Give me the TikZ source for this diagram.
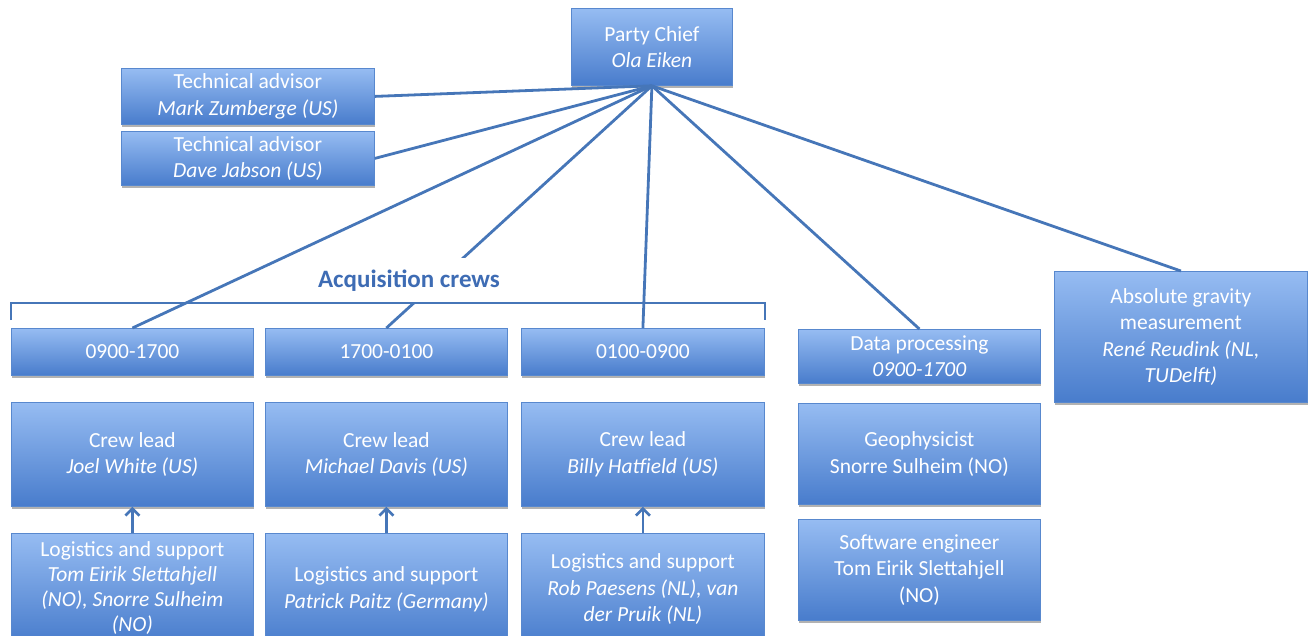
\documentclass[tikz,border=0pt]{standalone}
\usepackage{fontspec}
\setmainfont{Carlito}
\usepackage{tikz}
\usetikzlibrary{arrows.meta,shadows}
\definecolor{boxTop}{RGB}{150,188,242}
\definecolor{boxBottom}{RGB}{72,124,204}
\definecolor{boxEdge}{RGB}{88,136,206}
\definecolor{linkLine}{RGB}{70,118,184}
\definecolor{crewLabel}{RGB}{62,108,180}

\begin{document}
\begin{tikzpicture}[
  x=1pt,
  y=-1pt,
  org box/.style 2 args={
    anchor=north west,
    draw=boxEdge,
    line width=0.8pt,
    top color=boxTop,
    bottom color=boxBottom,
    text=white,
    align=center,
    inner sep=2pt,
    minimum width=#1pt,
    minimum height=#2pt,
    font=\fontsize{21.5}{26.5}\selectfont,
    drop shadow={shadow xshift=1pt,shadow yshift=-3pt,opacity=0.3,fill=black}
  },
  org link/.style={
    draw=linkLine,
    line width=2.8pt
  },
  org arrow/.style={
    draw=linkLine,
    line width=2.6pt,
    -{Straight Barb[length=7pt,width=14pt]}
  },
  crew label/.style={
    fill=white,
    text=crewLabel,
    minimum width=220pt,
    minimum height=46pt,
    font=\fontsize{25}{30}\selectfont\bfseries
  }
]
\useasboundingbox (0,0) rectangle (1314,635);
\clip (0,0) rectangle (1314,635);

\node[org box={161}{77}] (chief) at (571,8) {Party Chief\\\textit{Ola Eiken}};
\node[org box={253}{56}] (advisorA) at (121,68) {Technical advisor\\\textit{Mark Zumberge (US)}};
\node[org box={253}{54}] (advisorB) at (121,131) {Technical advisor\\\textit{Dave Jabson (US)}};

\node[org box={242}{47}] (shiftA) at (11,328) {0900-1700};
\node[org box={242}{47}] (shiftB) at (265,328) {1700-0100};
\node[org box={243}{47}] (shiftC) at (521,328) {0100-0900};
\node[org box={242}{54}] (dataProc) at (798,329) {Data processing\\\textit{0900-1700}};
\node[org box={253}{131}] (gravity) at (1054,271) {Absolute gravity\\measurement\\\textit{René Reudink (NL,}\\\textit{TUDelft)}};

\node[org box={242}{104}] (leadA) at (11,402) {Crew lead\\\textit{Joel White (US)}};
\node[org box={242}{104}] (leadB) at (265,402) {Crew lead\\\textit{Michael Davis (US)}};
\node[org box={243}{104}] (leadC) at (521,402) {Crew lead\\\textit{Billy Hatfield (US)}};
\node[org box={242}{101}] (geo) at (798,403) {Geophysicist\\Snorre Sulheim (NO)};
\node[org box={242}{101}] (software) at (798,519) {Software engineer\\Tom Eirik Slettahjell\\(NO)};

\node[org box={242}{110}, font=\fontsize{21.5}{25}\selectfont] (logA) at (11,533) {Logistics and support\\\textit{Tom Eirik Slettahjell}\\\textit{(NO), Snorre Sulheim}\\\textit{(NO)}};
\node[org box={242}{112}] (logB) at (265,533) {Logistics and support\\\textit{Patrick Paitz (Germany)}};
\node[org box={243}{112}] (logC) at (521,533) {Logistics and support\\\textit{Rob Paesens (NL), van}\\\textit{der Pruik (NL)}};

\draw[org link] (chief.south) -- (advisorA.east);
\draw[org link] (chief.south) -- (advisorB.east);
\draw[org link] (chief.south) -- (shiftA.north);
\draw[org link] (chief.south) -- (shiftB.north);
\draw[org link] (chief.south) -- (shiftC.north);
\draw[org link] (chief.south) -- (dataProc.north);
\draw[org link] (chief.south) -- (gravity.north);

\draw[org arrow] (logA.north) -- (leadA.south);
\draw[org arrow] (logB.north) -- (leadB.south);
\draw[org arrow] (logC.north) -- (leadC.south);

\node[crew label] (crews) at (409,281) {Acquisition crews};
\coordinate (bracketL) at (11,320);
\coordinate (bracketR) at (765,320);
\draw[draw=linkLine,line width=2pt] (bracketL) -- ++(0,-17) -| (bracketR);
\end{tikzpicture}
\end{document}
